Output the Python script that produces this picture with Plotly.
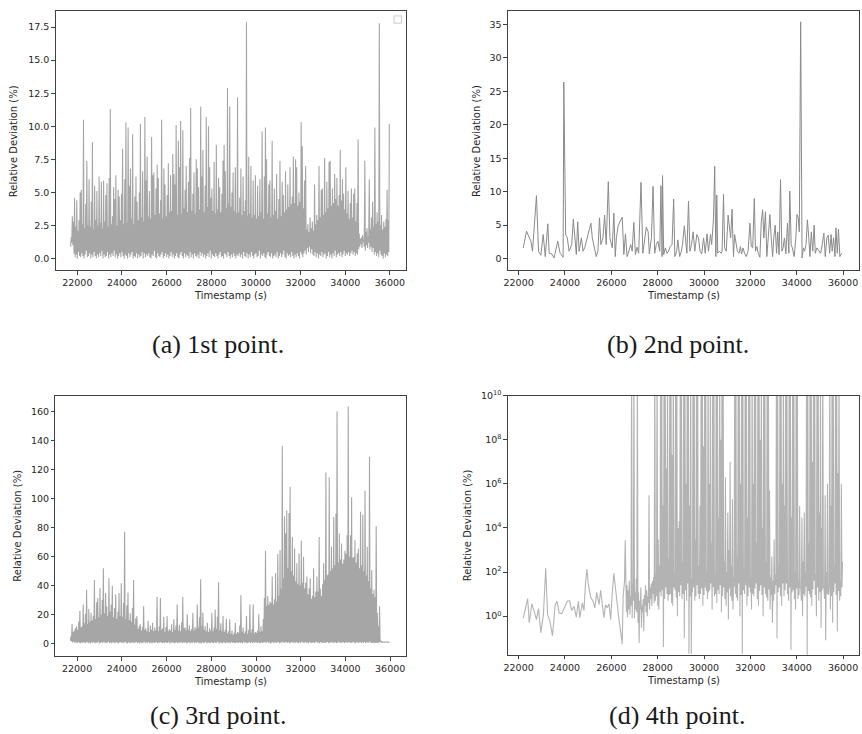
import plotly.graph_objects as go

W, H = 862, 734

# ---------------- data ----------------
# (a) 1st point: sampled every 25 s, stored as alternating minima / maxima
a_t0, a_dt = 21700, 25
a_lows = [
    0.9, 1.2, 1.0, 0.4, 0.1, 0.3, 0.0, 0.5, 0.2, 0.1,
    0.4, 0.2, 0.0, 0.3, 0.6, 0.1, 0.2, 0.4, 0.0, 0.3,
    0.1, 0.5, 0.2, 0.0, 0.3, 0.1, 0.4, 0.2, 0.6, 0.0,
    0.3, 0.1, 0.2, 0.5, 0.0, 0.3, 0.1, 0.4, 0.2, 0.6,
    0.1, 0.3, 0.0, 0.2, 0.4, 0.1, 0.5, 0.2, 0.0, 0.3,
    0.2, 0.0, 0.4, 0.1, 0.3, 0.5, 0.0, 0.2, 0.1, 0.4,
    0.0, 0.3, 0.1, 0.2, 0.5, 0.0, 0.4, 0.1, 0.3, 0.2,
    0.4, 0.1, 0.0, 0.3, 0.2, 0.6, 0.1, 0.0, 0.4, 0.2,
    0.1, 0.3, 0.5, 0.0, 0.2, 0.4, 0.1, 0.3, 0.0, 0.2,
    0.5, 0.1, 0.3, 0.0, 0.2, 0.4, 0.1, 0.0, 0.3, 0.5,
    0.2, 0.0, 0.4, 0.1, 0.3, 0.2, 0.0, 0.5, 0.1, 0.3,
    0.0, 0.4, 0.2, 0.1, 0.3, 0.0, 0.5, 0.2, 0.4, 0.1,
    0.3, 0.0, 0.2, 0.4, 0.1, 0.6, 0.0, 0.3, 0.2, 0.1,
    0.4, 0.2, 0.0, 0.3, 0.5, 0.1, 0.2, 0.0, 0.4, 0.3,
    0.1, 0.5, 0.2, 0.0, 0.3, 0.1, 0.4, 0.2, 0.0, 0.3,
    0.2, 0.4, 0.1, 0.3, 0.0, 0.5, 0.2, 0.1, 0.4, 0.0,
    0.3, 0.1, 0.5, 0.2, 0.0, 0.3, 0.4, 0.1, 0.2, 0.6,
    0.0, 0.3, 0.2, 0.4, 0.1, 0.0, 0.3, 0.5, 0.2, 0.1,
    0.4, 0.0, 0.2, 0.3, 0.1, 0.5, 0.0, 0.2, 0.4, 0.1,
    0.3, 0.6, 0.1, 0.0, 0.4, 0.2, 0.3, 0.1, 0.5, 0.2,
    0.0, 0.3, 0.1, 0.4, 0.2, 0.0, 0.5, 0.3, 0.1, 0.4,
    0.6, 0.3, 0.8, 0.5, 0.9, 0.4, 0.7, 0.3, 0.2, 0.5,
    0.1, 0.4, 0.0, 0.3, 0.2, 0.5, 0.1, 0.3, 0.4, 0.0,
    0.2, 0.5, 0.1, 0.3, 0.0, 0.4, 0.2, 0.6, 0.1, 0.3,
    0.4, 0.2, 0.5, 0.1, 0.3, 0.6, 0.2, 0.4, 0.3, 0.5,
    0.2, 0.4, 0.6, 0.3, 0.5, 0.2, 0.4, 0.3, 0.7, 0.9,
    1.1, 0.8, 1.3, 0.9, 0.6, 1.0, 0.8, 1.2, 0.7, 0.9,
    0.5, 0.8, 0.3, 0.5, 0.2, 0.4, 0.1, 0.6, 0.3, 0.2,
    0.0, 0.4, 0.1, 0.3, 0.2, 0.5,
]
a_highs = [
    1.6, 3.2, 2.8, 4.6, 2.4, 4.4, 2.1, 2.9, 5.0, 5.2,
    2.6, 10.5, 2.3, 4.1, 7.4, 2.5, 6.0, 2.4, 4.3, 8.8,
    2.2, 5.5, 2.9, 5.1, 2.5, 6.2, 2.7, 5.8, 2.3, 5.9,
    2.8, 4.8, 5.7, 2.4, 6.1, 11.3, 2.6, 3.2, 5.4, 4.5,
    6.3, 2.5, 5.2, 4.7, 2.9, 4.9, 8.3, 2.6, 6.0, 10.3,
    2.7, 9.9, 5.5, 6.8, 3.0, 9.4, 2.6, 4.7, 6.2, 4.3,
    2.9, 5.0, 10.2, 3.1, 6.6, 2.8, 10.7, 5.9, 7.7, 3.2,
    5.1, 3.0, 9.2, 6.3, 6.5, 3.3, 5.3, 7.1, 6.1, 3.4,
    4.4, 10.5, 3.0, 6.8, 5.6, 3.2, 4.8, 7.2, 3.5, 6.3,
    3.6, 7.9, 6.4, 5.6, 10.1, 3.3, 8.9, 6.9, 10.4, 3.4,
    9.7, 3.8, 5.2, 7.0, 3.5, 5.8, 7.6, 11.4, 3.6, 4.9,
    6.5, 3.4, 7.5, 6.8, 5.4, 3.7, 11.5, 6.2, 8.2, 3.5,
    5.5, 10.7, 3.9, 10.0, 6.9, 4.6, 5.3, 3.6, 7.3, 3.4,
    8.6, 3.7, 6.1, 5.4, 3.5, 4.9, 7.4, 8.6, 6.6, 3.8,
    12.9, 4.2, 11.5, 3.9, 5.0, 6.5, 3.6, 6.9, 3.4, 12.2,
    3.5, 4.6, 6.8, 3.3, 6.2, 3.6, 4.4, 17.9, 3.2, 7.7,
    3.4, 7.0, 3.1, 5.9, 3.3, 6.3, 3.0, 5.5, 3.2, 6.0,
    3.5, 9.6, 3.0, 6.2, 9.9, 7.5, 3.4, 5.6, 5.9, 3.1,
    8.9, 3.3, 5.3, 3.6, 6.4, 3.0, 4.5, 7.4, 3.2, 5.8,
    4.8, 3.5, 6.6, 3.7, 5.6, 3.9, 6.9, 4.1, 4.7, 7.7,
    4.2, 7.5, 6.9, 4.0, 5.0, 4.3, 10.3, 8.5, 3.8, 5.9,
    7.0, 2.2, 2.6, 2.0, 3.1, 2.3, 2.8, 2.1, 5.6, 2.6,
    3.3, 2.9, 7.0, 3.1, 5.2, 5.3, 3.3, 7.6, 3.5, 5.8,
    3.8, 7.3, 7.4, 4.0, 5.3, 4.2, 6.4, 4.5, 6.1, 4.0,
    4.8, 8.2, 4.4, 6.0, 4.9, 3.7, 6.9, 3.4, 5.1, 3.0,
    4.2, 5.3, 3.1, 4.9, 5.3, 2.8, 4.2, 9.0, 1.9, 1.5,
    1.6, 1.8, 1.4, 7.4, 2.0, 2.3, 1.7, 6.0, 2.2, 3.1,
    4.3, 2.4, 9.9, 2.6, 3.5, 2.8, 17.8, 2.5, 3.3, 2.2,
    2.8, 2.4, 3.0, 5.2, 2.9, 10.2,
]

# (b) 2nd point
b_t = [
    22200, 22340, 22530, 22600, 22770, 22860, 22960, 23060, 23150, 23260,
    23320, 23430, 23530, 23690, 23790, 23920, 23950, 24030, 24100, 24180,
    24290, 24360, 24430, 24490, 24550, 24610, 24710, 24780, 24860, 24950,
    25040, 25120, 25180, 25280, 25350, 25420, 25490, 25550, 25640, 25710,
    25780, 25870, 25940, 26040, 26110, 26170, 26220, 26300, 26370, 26470,
    26540, 26610, 26680, 26750, 26840, 26900, 26970, 27040, 27110, 27180,
    27280, 27360, 27440, 27510, 27590, 27640, 27730, 27800, 27870, 27940,
    28010, 28090, 28140, 28190, 28210, 28260, 28330, 28400, 28470, 28540,
    28620, 28690, 28740, 28820, 28870, 28950, 29020, 29070, 29150, 29200,
    29260, 29330, 29390, 29460, 29530, 29600, 29690, 29760, 29830, 29900,
    29980, 30050, 30130, 30190, 30280, 30330, 30410, 30460, 30510, 30550,
    30590, 30660, 30740, 30780, 30840, 30890, 30960, 31040, 31090, 31150,
    31210, 31270, 31320, 31380, 31440, 31510, 31570, 31620, 31680, 31750,
    31820, 31900, 31980, 32040, 32100, 32170, 32220, 32280, 32340, 32410,
    32470, 32530, 32580, 32650, 32710, 32770, 32840, 32900, 32960, 33010,
    33070, 33130, 33180, 33240, 33300, 33360, 33410, 33470, 33530, 33600,
    33660, 33700, 33760, 33810, 33890, 33960, 34010, 34070, 34110, 34170,
    34230, 34290, 34340, 34400, 34460, 34520, 34570, 34630, 34690, 34750,
    34800, 34870, 34950, 35030, 35100, 35170, 35230, 35300, 35360, 35420,
    35480, 35530, 35590, 35650, 35690, 35750, 35800, 35860, 35920, 35960,
]
b_v = [
    1.6, 4.1, 2.6, 1.1, 9.4, 1.1, 0.5, 3.6, 0.3, 5.2,
    0.8, 0.7, 0.1, 2.6, 0.8, 0.2, 26.4, 3.6, 3.1, 1.1,
    2.1, 5.9, 3.1, 0.6, 5.5, 1.1, 3.1, 1.1, 1.7, 3.1,
    4.0, 5.3, 3.1, 1.1, 0.3, 1.1, 6.1, 2.1, 3.1, 6.5,
    2.1, 11.5, 3.1, 1.6, 6.8, 0.3, 3.1, 5.0, 5.5, 6.2,
    0.6, 3.7, 0.3, 1.1, 2.1, 1.1, 5.4, 0.6, 1.7, 0.8,
    11.4, 0.8, 3.1, 4.7, 4.0, 0.7, 3.1, 10.8, 0.8, 2.1,
    2.6, 1.1, 10.9, 0.3, 12.4, 0.6, 1.6, 0.8, 1.1, 1.8,
    2.1, 8.9, 0.3, 1.1, 2.8, 0.3, 1.1, 2.1, 4.9, 3.1,
    0.8, 8.6, 1.1, 2.1, 4.0, 1.1, 3.6, 3.1, 1.1, 0.7,
    3.1, 0.8, 3.7, 1.1, 3.6, 2.1, 6.1, 13.8, 0.3, 9.5,
    0.8, 1.1, 0.8, 1.1, 9.6, 1.6, 1.1, 6.5, 5.3, 3.1,
    7.4, 0.3, 3.6, 2.1, 1.1, 0.8, 1.8, 0.7, 1.6, 0.8,
    0.3, 1.1, 5.3, 1.8, 1.6, 9.0, 1.1, 1.8, 0.8, 0.2,
    5.5, 7.3, 3.1, 7.0, 0.3, 3.1, 6.6, 3.1, 0.3, 3.1,
    5.0, 0.8, 4.0, 0.6, 11.8, 1.1, 1.6, 3.1, 0.7, 5.3,
    0.8, 10.1, 2.1, 1.6, 0.3, 3.1, 6.6, 6.0, 4.0, 35.4,
    0.1, 1.6, 1.1, 2.1, 5.8, 3.1, 0.3, 4.0, 1.1, 5.0,
    0.8, 1.6, 1.1, 0.8, 2.1, 3.8, 0.3, 3.1, 3.5, 0.8,
    3.6, 1.1, 3.1, 0.3, 4.6, 0.8, 4.4, 0.3, 0.7, 0.8,
]

# (c) 3rd point: sampled every 25 s, stored as alternating minima / maxima
c_t0, c_dt = 21700, 25
c_lows = [
    2.0, 1.5, 0.8, 1.2, 0.5, 0.9, 0.3, 1.1, 0.6, 0.2,
    0.8, 0.4, 1.0, 0.2, 0.6, 1.3, 0.3, 0.7, 0.1, 0.9,
    0.5, 1.1, 0.2, 0.8, 0.4, 1.2, 0.0, 0.6, 0.9, 0.3,
    1.0, 0.5, 0.2, 0.8, 1.3, 0.4, 0.7, 0.1, 0.9, 0.5,
    0.3, 1.1, 0.6, 0.2, 0.8, 1.0, 0.4, 0.7, 0.3, 1.2,
    0.5, 0.1, 0.9, 0.6, 0.3, 1.0, 0.2, 0.8, 0.5, 1.1,
    0.4, 0.7, 0.0, 0.9, 0.3, 0.6, 1.2, 0.2, 0.8, 0.5,
    1.0, 0.3, 0.7, 0.1, 0.9, 0.4, 0.6, 1.1, 0.2, 0.8,
    0.5, 1.0, 0.3, 0.7, 0.2, 0.9, 0.6, 0.4, 1.2, 0.1,
    0.8, 0.5, 1.0, 0.3, 0.6, 0.9, 0.2, 0.7, 0.4, 1.1,
    0.3, 0.8, 0.5, 1.0, 0.1, 0.6, 0.9, 0.3, 0.7, 0.4,
    1.2, 0.2, 0.8, 0.5, 1.0, 0.3, 0.6, 0.1, 0.9, 0.4,
    0.7, 1.1, 0.2, 0.8, 0.5, 0.3, 1.0, 0.6, 0.2, 0.9,
    0.4, 0.7, 1.2, 0.1, 0.8, 0.5, 0.3, 1.0, 0.6, 0.2,
    0.9, 0.4, 0.7, 0.3, 1.1, 0.5, 0.8, 0.2, 0.6, 1.0,
    0.3, 0.9, 0.4, 0.7, 0.1, 1.2, 0.5, 0.8, 0.3, 0.6,
    1.0, 0.2, 0.9, 0.4, 0.7, 0.5, 1.1, 0.3, 0.8, 0.6,
    0.2, 1.0, 0.4, 0.7, 0.9, 0.3, 1.2, 0.5, 0.8, 0.1,
    0.6, 1.0, 0.3, 0.9, 0.4, 0.7, 1.1, 0.2, 0.8, 0.5,
    1.3, 0.3, 0.7, 1.0, 0.4, 0.9, 0.2, 0.6, 1.1, 0.5,
    0.8, 0.3, 1.0, 0.6, 0.2, 0.9, 0.4, 1.2, 0.7, 0.3,
    1.0, 0.5, 0.8, 0.2, 1.1, 0.6, 0.4, 0.9, 0.3, 0.7,
    1.2, 0.5, 0.8, 0.1, 1.0, 0.6, 0.3, 0.9, 0.4, 0.7,
    1.1, 0.2, 0.8, 0.5, 1.0, 0.3, 0.7, 0.9, 0.4, 0.6,
    1.2, 0.3, 0.8, 0.5, 1.0, 0.2, 0.7, 0.9, 0.4, 1.1,
    0.6, 0.3, 0.8, 1.0, 0.5, 0.2, 0.9, 0.7, 0.4, 1.1,
    0.3, 0.8, 0.6, 1.0, 0.2, 0.9, 0.5, 0.7, 1.2, 0.4,
    0.4, 0.8, 0.3, 0.6, 0.5, 0.2, 0.7, 1.0, 0.9, 0.8,
    0.8, 0.9, 0.8, 0.9, 0.8, 0.9,
]
c_highs = [
    5.0, 13.5, 8.0, 9.0, 10.5, 11.8, 9.5, 15.2, 22.4, 11.0,
    12.0, 26.9, 14.0, 20.5, 37.1, 13.5, 24.0, 15.0, 21.3, 16.0,
    19.0, 43.9, 17.0, 28.5, 31.5, 18.0, 38.2, 20.0, 30.0, 51.9,
    21.0, 34.9, 25.5, 19.0, 45.1, 22.0, 27.0, 39.9, 18.0, 24.5,
    33.8, 17.0, 22.0, 34.9, 19.0, 41.7, 18.5, 28.0, 77.1, 17.0,
    26.5, 35.3, 16.0, 21.0, 15.0, 24.5, 43.9, 13.0, 17.5, 19.0,
    10.0, 12.0, 13.3, 9.0, 11.5, 25.8, 9.5, 10.5, 8.5, 15.5,
    8.0, 12.5, 9.5, 14.4, 8.5, 11.0, 9.0, 32.2, 8.5, 12.0,
    31.5, 9.5, 10.5, 18.3, 8.0, 11.5, 19.0, 8.5, 10.0, 9.0,
    13.3, 8.0, 16.7, 9.5, 12.5, 26.9, 9.0, 13.0, 8.5, 14.5,
    32.2, 10.5, 11.0, 9.0, 20.2, 9.5, 12.5, 8.5, 10.0, 21.3,
    9.0, 11.5, 10.0, 26.9, 11.0, 18.0, 44.4, 12.0, 21.3, 9.5,
    12.0, 8.5, 14.4, 8.0, 10.5, 9.0, 21.3, 8.5, 11.0, 23.5,
    10.0, 18.5, 42.4, 9.0, 14.0, 8.5, 19.0, 8.0, 9.5, 17.2,
    7.0, 8.5, 16.7, 6.5, 9.0, 6.0, 7.5, 14.4, 6.5, 8.0,
    7.5, 12.5, 33.3, 8.0, 11.0, 7.0, 8.5, 19.0, 6.5, 9.5,
    26.9, 7.5, 10.0, 26.9, 7.0, 8.0, 7.5, 9.0, 20.2, 8.0,
    12.0, 8.5, 17.0, 31.5, 64.0, 26.0, 32.7, 27.0, 29.0, 28.0,
    46.2, 27.0, 30.5, 48.5, 29.0, 61.8, 33.0, 64.5, 38.0, 136.4,
    45.0, 87.8, 75.9, 91.9, 52.0, 90.1, 108.3, 50.0, 73.6, 47.0,
    65.7, 43.0, 55.4, 41.0, 62.2, 40.0, 70.9, 42.0, 60.0, 38.0,
    42.0, 46.3, 34.0, 38.0, 45.1, 31.0, 33.0, 51.9, 32.0, 36.0,
    46.3, 36.0, 73.6, 38.0, 32.7, 41.0, 55.4, 44.0, 118.1, 47.0,
    48.0, 114.7, 50.0, 66.8, 52.0, 87.3, 54.0, 89.6, 160.3, 56.0,
    75.9, 58.0, 69.1, 55.0, 58.0, 64.0, 62.0, 74.8, 163.7, 60.0,
    74.8, 101.0, 59.0, 60.0, 71.4, 56.0, 62.2, 65.7, 52.0, 91.0,
    54.0, 89.0, 50.0, 105.5, 47.0, 66.8, 43.0, 129.0, 38.0, 50.8,
    34.0, 37.1, 32.0, 80.9, 21.3, 12.0, 25.8, 1.9, 1.3, 1.1,
    1.2, 1.0, 1.1, 1.2, 1.0, 1.1,
]

# (d) 4th point: sparse start, then alternating minima / maxima every 25 s.
# 1e12 marks excursions that leave the top of the axis.
d_early_t = [
    22200, 22390, 22460, 22570, 22670, 22770, 22860, 22960, 23070, 23170,
    23250, 23350, 23460, 23580, 23660, 23750, 23860, 23960, 24100, 24200,
    24290, 24390, 24490, 24580, 24640, 24750, 24820, 24890, 24950, 25010,
    25110, 25210, 25290, 25370, 25470, 25540, 25610, 25680, 25750, 25820,
    25900, 25970, 26040, 26110, 26180, 26250, 26320, 26400, 26470, 26510,
    26570, 26600,
]
d_early_v = [
    0.8, 6.2, 0.5, 3.6, 1.7, 0.7, 2.2, 0.18, 1.2, 148,
    1.2, 0.6, 0.13, 3.3, 4.7, 1.4, 1.3, 2.4, 4.7, 5.0,
    1.8, 2.8, 0.9, 4.7, 0.85, 4.0, 1.8, 35, 137, 26,
    7.1, 4.7, 2.4, 12, 3.3, 15, 3.3, 0.85, 3.3, 2.4,
    3.6, 0.7, 11, 88, 19, 2.8, 0.85, 0.21, 0.054, 8.7,
    37, 2750,
]
d_t0, d_dt = 26650, 25
d_lows = [
    1.5, 0.9, 2, 1.2, 3, 0.8, 5, 0.8, 2, 1.5,
    0.5, 0.06, 2, 0.3, 1.5, 0.2, 3, 1.5, 1, 4,
    2, 6, 3, 10, 4, 5, 8, 3, 2, 12,
    8, 15, 0.04, 6, 20, 10, 5, 9, 10, 4,
    3, 20, 15, 7, 1, 12, 8, 25, 6, 10,
    0.1, 15, 5, 30, 0.02, 8, 0.02, 12, 20, 5,
    8, 25, 10, 6, 10, 18, 3, 9, 20, 14,
    6, 12, 15, 30, 2, 20, 8, 10, 4, 15,
    10, 25, 1.5, 8, 20, 6, 3, 12, 0.7, 18,
    8, 5, 2, 22, 10, 7, 5, 30, 1, 9,
    0.02, 15, 10, 25, 3, 8, 20, 12, 2, 10,
    8, 18, 30, 6, 3, 14, 25, 9, 1, 20,
    10, 7, 5, 16, 2, 9, 0.5, 5, 10, 25,
    0.1, 12, 20, 8, 3, 30, 8, 15, 30, 10,
    5, 20, 0.03, 12, 15, 6, 2, 18, 6, 9,
    20, 5, 1, 10, 8, 22, 0.01, 14, 10, 7,
    3, 16, 40, 9, 1, 20, 5, 12, 0.3, 15,
    20, 6, 0.08, 10, 10, 25, 2, 8, 0.5, 12,
    30, 9, 0.2, 14, 5, 8, 20,
]
d_highs = [
    26, 15, 40, 8, 1e12, 30, 1e12, 12, 50, 1e12,
    12, 5, 20, 3, 6, 9, 25, 15, 8, 3e5,
    20, 30, 40, 60, 1e12, 80, 1e12, 3e3, 200, 1e12,
    1e12, 1e5, 1e12, 1e12, 5e6, 1e12, 400, 1e12, 1e12, 2e7,
    1e12, 80, 1e12, 1e12, 1e4, 2e4, 1e12, 1e12, 300, 1e12,
    1e12, 1e6, 1e12, 1e12, 1e5, 1e12, 50, 1e12, 1e12, 3e3,
    1e12, 1e12, 200, 1e5, 1e12, 1e12, 5e7, 1e12, 1e12, 100,
    1e12, 1e6, 1e12, 2e3, 1e12, 1e12, 80, 1e12, 1e12, 3e4,
    1e12, 1e8, 1e12, 1e12, 300, 2e6, 100, 5e4, 1e3, 1e7,
    200, 2e5, 60, 1e12, 1e12, 500, 1e12, 1e12, 1e6, 1e12,
    1e12, 150, 1e12, 1e12, 3e4, 1e12, 1e12, 60, 1e12, 1e6,
    1e12, 1e12, 2e3, 1e12, 1e12, 1e8, 1e12, 1e4, 1e12, 1e12,
    300, 1e12, 1e12, 5e5, 60, 500, 40, 3e3, 80, 1e12,
    1e12, 200, 1e12, 1e12, 1e6, 1e12, 1e5, 1e12, 1e12, 40,
    1e12, 1e12, 3e4, 1e12, 1e12, 100, 1e12, 1e12, 40, 1e5,
    20, 3e4, 300, 5e4, 100, 1e12, 1e12, 2e3, 1e12, 1e12,
    1e7, 1e12, 1e12, 80, 1e12, 1e12, 5e4, 1e12, 1e4, 1e12,
    20, 3e5, 100, 1e6, 10, 1e12, 1e5, 1e12, 1e12, 200,
    1e12, 1e12, 3e6, 1e12, 40, 1e6, 300,
]

x_ticks = [22000, 24000, 26000, 28000, 30000, 32000, 34000, 36000]
a_yticks = [0, 2.5, 5, 7.5, 10, 12.5, 15, 17.5]
b_yticks = [0, 5, 10, 15, 20, 25, 30, 35]
c_yticks = [0, 20, 40, 60, 80, 100, 120, 140, 160]
d_yticks = [1, 1e2, 1e4, 1e6, 1e8, 1e10]
d_ytext = ["10<sup>0</sup>", "10<sup>2</sup>", "10<sup>4</sup>",
           "10<sup>6</sup>", "10<sup>8</sup>", "10<sup>10</sup>"]
captions = ["(a) 1st point.", "(b) 2nd point.", "(c) 3rd point.", "(d) 4th point."]
x_title = "Timestamp (s)"
y_title = "Relative Deviation (%)"


# ---------------- helpers ----------------
def interleave(t0, dt, lows, highs):
    ts, vs = [], []
    for i, (lo, hi) in enumerate(zip(lows, highs)):
        ts += [t0 + 2 * dt * i, t0 + 2 * dt * i + dt]
        vs += [lo, hi]
    return ts, vs


a_t, a_v = interleave(a_t0, a_dt, a_lows, a_highs)
c_t, c_v = interleave(c_t0, c_dt, c_lows, c_highs)
dd_t, dd_v = interleave(d_t0, d_dt, d_lows, d_highs)
d_t = d_early_t + dd_t
d_v = d_early_v + dd_v

fig = go.Figure()
fig.add_trace(go.Scatter(x=a_t, y=a_v, mode="lines", xaxis="x", yaxis="y",
                         line=dict(color="#a6a6a6", width=1.1), showlegend=False))
fig.add_trace(go.Scatter(x=b_t, y=b_v, mode="lines", xaxis="x2", yaxis="y2",
                         line=dict(color="#8a8a8a", width=1.0), showlegend=False))
fig.add_trace(go.Scatter(x=c_t, y=c_v, mode="lines", xaxis="x3", yaxis="y3",
                         line=dict(color="#a6a6a6", width=1.1), showlegend=False))
fig.add_trace(go.Scatter(x=d_t, y=d_v, mode="lines", xaxis="x4", yaxis="y4",
                         line=dict(color="#b3b3b3", width=1.1), showlegend=False))


def fx(px):
    return px / W


def fy(py):
    return 1 - py / H


tick_font = dict(family="DejaVu Sans", size=9.5, color="#262626")
axis_common = dict(showline=True, mirror=True, linecolor="#404040", linewidth=1,
                   ticks="outside", ticklen=3.5, tickwidth=1, tickcolor="#404040",
                   showgrid=False, zeroline=False, tickfont=tick_font)

panels = {
    # name: (x0, x1, ytop, ybottom, xrange, yrange) in pixels / data units
    "1": (52, 404, 4, 266, [21033, 36726], [-0.9, 18.72]),
    "2": (506.3, 858.7, 4, 265.7, [21540, 36674], [-1.73, 37.03]),
    "3": (51.7, 404.3, 392.3, 655.7, [21033, 36726], [-8.9, 171.2]),
    "4": (506.3, 858.7, 392.3, 654, [21540, 36674], [-1.75, 10]),
}
ytick_sets = {
    "1": dict(tickvals=a_yticks, ticktext=[f"{v:.1f}" for v in a_yticks]),
    "2": dict(tickvals=b_yticks, ticktext=[str(v) for v in b_yticks]),
    "3": dict(tickvals=c_yticks, ticktext=[str(v) for v in c_yticks]),
    "4": dict(tickvals=d_yticks, ticktext=d_ytext, type="log"),
}
layout_axes = {}
for k, (x0, x1, yt, yb, xr, yr) in panels.items():
    xname = "xaxis" if k == "1" else f"xaxis{k}"
    yname = "yaxis" if k == "1" else f"yaxis{k}"
    yid = "y" if k == "1" else f"y{k}"
    xid = "x" if k == "1" else f"x{k}"
    layout_axes[xname] = dict(axis_common, domain=[fx(x0), fx(x1)], range=xr,
                              anchor=yid, tickvals=x_ticks,
                              ticktext=[str(v) for v in x_ticks])
    layout_axes[yname] = dict(axis_common, domain=[fy(yb), fy(yt)], range=yr,
                              anchor=xid, **ytick_sets[k])

fig.update_layout(width=W, height=H, margin=dict(l=0, r=0, t=0, b=0),
                  paper_bgcolor="white", plot_bgcolor="white", **layout_axes)

title_font = dict(family="DejaVu Sans", size=10, color="#262626")
cap_font = dict(family="Liberation Serif", size=26, color="#1a1a1a")
annots = []
for cx, cy in [(228, 291), (682.5, 291), (228, 680.5), (682.5, 679.5)]:
    annots.append(dict(x=fx(cx), y=fy(cy), xref="paper", yref="paper", text=x_title,
                       showarrow=False, font=title_font, xanchor="center", yanchor="middle"))
for cx, cy in [(9.5, 135), (474.5, 135), (12.7, 524), (465.5, 523)]:
    annots.append(dict(x=fx(cx), y=fy(cy), xref="paper", yref="paper", text=y_title,
                       showarrow=False, font=title_font, textangle=-90,
                       xanchor="center", yanchor="middle"))
for (cx, cy), txt in zip([(215, 341), (677, 341), (215, 715), (677, 715)], captions):
    annots.append(dict(x=fx(cx), y=fy(cy), xref="paper", yref="paper", text=txt,
                       showarrow=False, font=cap_font, xanchor="center", yanchor="middle"))
fig.update_layout(annotations=annots)

# empty legend frame in panel (a)
fig.add_shape(type="rect", xref="paper", yref="paper",
              x0=fx(391.8), x1=fx(399.3), y0=fy(16.3), y1=fy(9),
              line=dict(color="#cccccc", width=1), fillcolor="white")

fig.write_html("out.html", config={"displayModeBar": False},
               post_script="document.body.style.margin='0';document.body.style.padding='0';"
                           "document.documentElement.style.overflow='hidden';")
